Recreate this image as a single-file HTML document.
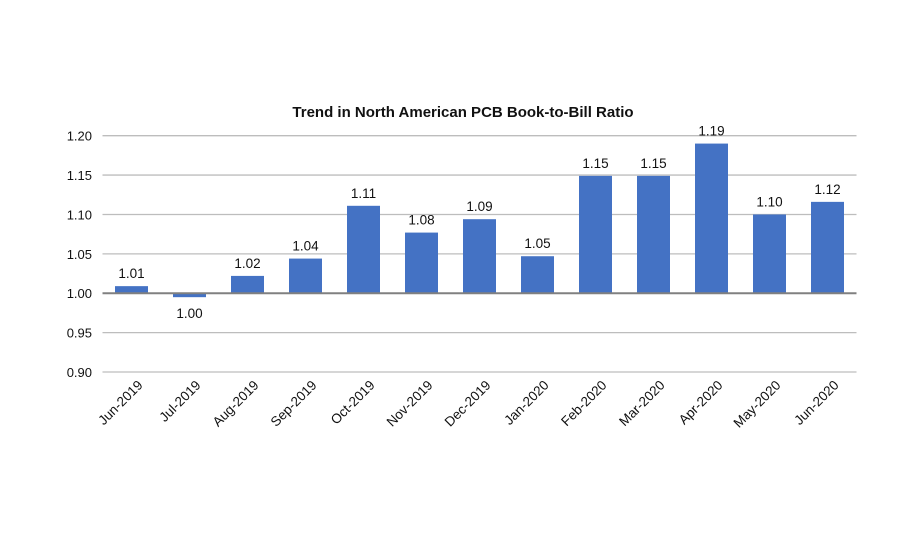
<!DOCTYPE html>
<html><head><meta charset="utf-8"><style>
body{margin:0;background:#fff;}
svg text{font-family:"Liberation Sans",Arial,sans-serif;fill:#111;}
</style></head><body>
<svg width="900" height="550" id="c">
<text x="463" y="117" text-anchor="middle" font-size="15" font-weight="bold">Trend in North American PCB Book-to-Bill Ratio</text>
</svg>
<script>
const categories=["Jun-2019","Jul-2019","Aug-2019","Sep-2019","Oct-2019","Nov-2019","Dec-2019","Jan-2020","Feb-2020","Mar-2020","Apr-2020","May-2020","Jun-2020"];
const values=[1.009,0.995,1.022,1.044,1.111,1.077,1.094,1.047,1.149,1.149,1.19,1.10,1.116];
const valueLabels=["1.01","1.00","1.02","1.04","1.11","1.08","1.09","1.05","1.15","1.15","1.19","1.10","1.12"];
const yTicks=[0.90,0.95,1.00,1.05,1.10,1.15,1.20];
const svg=document.getElementById('c');const NS='http://www.w3.org/2000/svg';
const L=102.5,R=856.5,yTop=135.7,yBot=372,vMin=0.9,vMax=1.2;
const y=v=>yBot-(v-vMin)/(vMax-vMin)*(yBot-yTop);
const step=(R-L)/categories.length;const x=i=>L+step*(i+0.5);
function mk(t,a){const e=document.createElementNS(NS,t);for(const k in a)e.setAttribute(k,a[k]);svg.appendChild(e);return e;}
yTicks.forEach(t=>{
 const g=mk('line',{x1:L,x2:R,y1:y(t),y2:y(t),stroke:'#bdbdbd','stroke-width':1.3});
 
 
 const tx=mk('text',{x:92,y:y(t)+5,'text-anchor':'end','font-size':13});tx.textContent=t.toFixed(2);
 
 
});
const bw=33;
values.forEach((v,i)=>{
 const y0=y(1),y1=y(v);
 const b=mk('rect',{x:x(i)-bw/2,y:Math.min(y0,y1),width:bw,height:Math.abs(y0-y1),fill:'#4472c4'});
 
 
 const ly=v>=1?y1-8:y(1)+25;
 const t=mk('text',{x:x(i),y:ly,'text-anchor':'middle','font-size':13.5});t.textContent=valueLabels[i];
 
 
 const cx=x(i)+12,cy=386;
 const c=mk('text',{x:cx,y:cy,'text-anchor':'end','font-size':13.5,transform:`rotate(-45 ${cx} ${cy})`});c.textContent=categories[i];
 
 
});
const base=mk('line',{x1:L,x2:R,y1:y(1),y2:y(1),stroke:'#808080','stroke-width':2});


</script>
</body></html>
